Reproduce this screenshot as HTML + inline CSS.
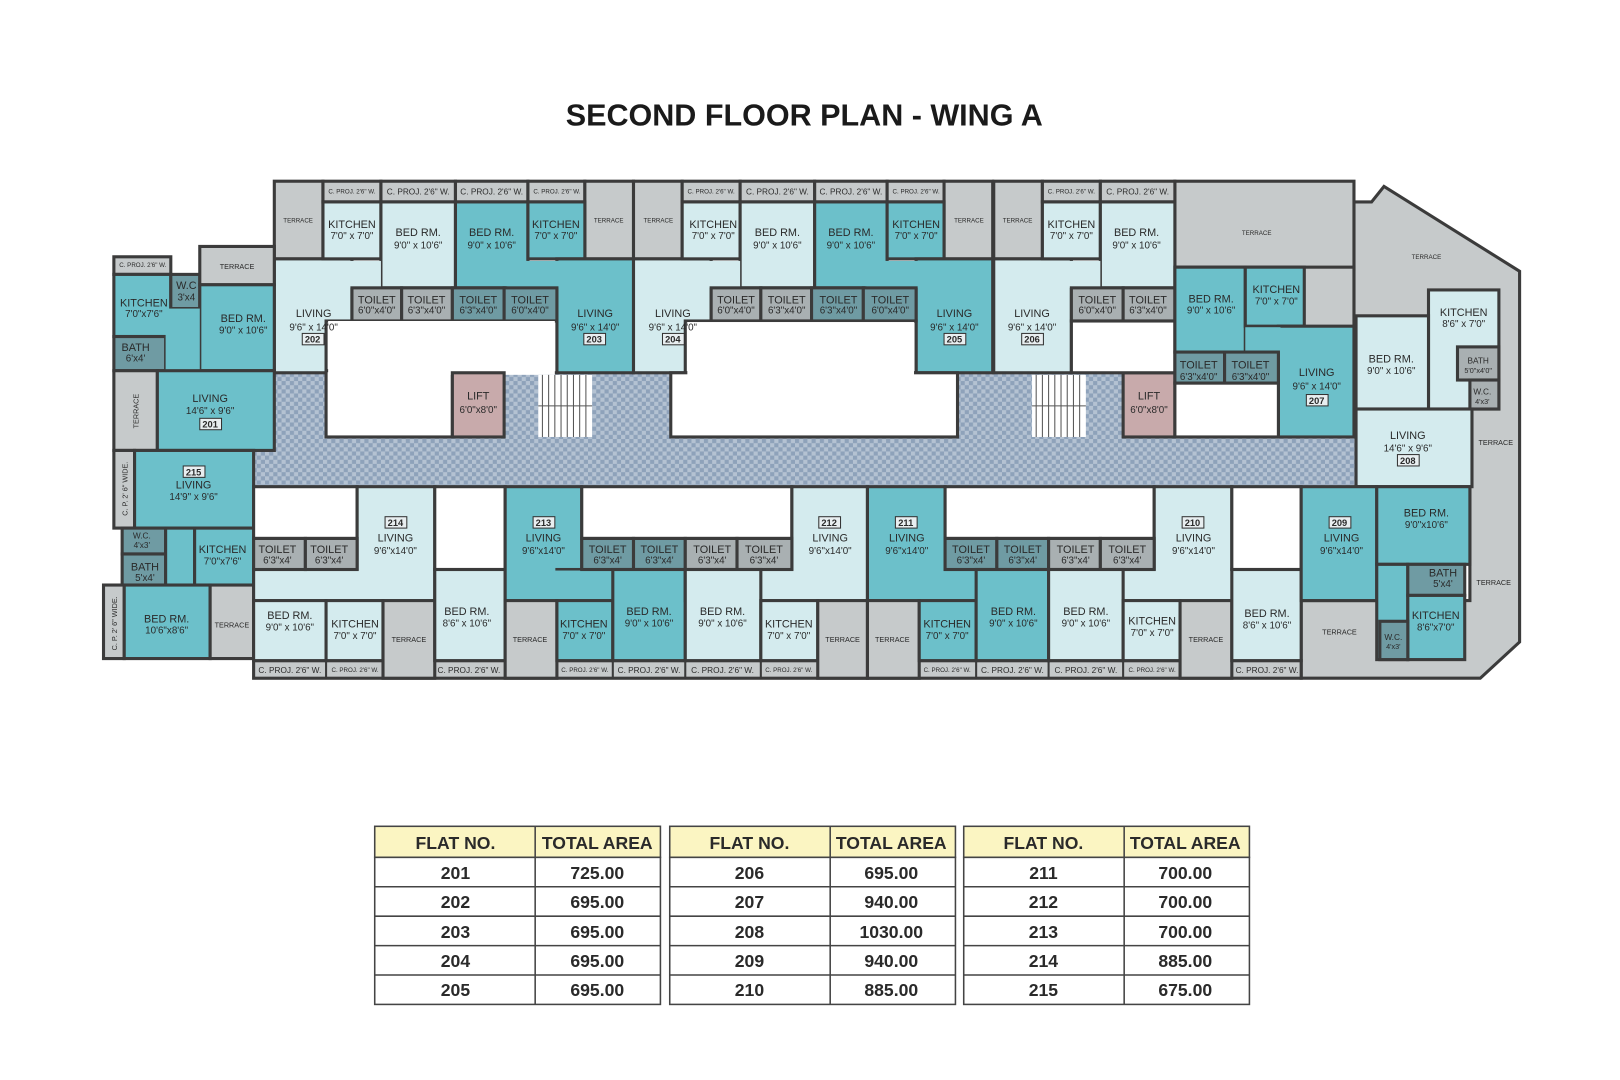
<!DOCTYPE html>
<html><head><meta charset="utf-8"><style>
html,body{margin:0;padding:0;background:#fff;width:1620px;height:1080px;overflow:hidden}
svg{display:block}
.L{fill:#d4ebee;stroke:#3b3b3b;stroke-width:3}
.T{fill:#6cc0ca;stroke:#3b3b3b;stroke-width:3}
.G{fill:#c6cacb;stroke:#3b3b3b;stroke-width:3}
.S{fill:#a9b0b2;stroke:#3b3b3b;stroke-width:3}
.D{fill:#6f9ba3;stroke:#3b3b3b;stroke-width:3}
.W{fill:#fff;stroke:#3b3b3b;stroke-width:3}
.C{fill:url(#chk);stroke:none}
text{font-family:"Liberation Sans",sans-serif;fill:#2a2a2a;text-anchor:middle}
.r{font-size:10.5px}
.d{font-size:9.5px}
.s{font-size:6px}
.p{font-size:8px}
.n{font-size:9px;font-weight:bold}
.nb{fill:#e8eef0;stroke:#333;stroke-width:1}
</style></head><body>
<svg width="1620" height="1080" viewBox="0 0 1565 1043" preserveAspectRatio="none" xmlns="http://www.w3.org/2000/svg">
<defs>
<pattern id="chk" width="8" height="8" patternUnits="userSpaceOnUse">
<rect width="8" height="8" fill="#b4c2d2"/><rect width="4" height="4" fill="#8ea2ba"/><rect x="4" y="4" width="4" height="4" fill="#8ea2ba"/>
</pattern>
</defs>
<text x="777" y="121" style="font-size:29.5px;font-weight:bold;fill:#1a1a1a">SECOND FLOOR PLAN - WING A</text>

<polygon points="1308,195 1325,195 1337,180 1468,262 1468,620 1430,655 1257,655 1257,580 1420,580 1420,470 1308,470" fill="#c6cacb" stroke="#3b3b3b" stroke-width="3"/>
<rect class="G" x="1135" y="175" width="173" height="85"/>
<rect class="G" x="1135" y="258" width="173" height="60"/>
<rect class="C" x="245" y="360" width="1065" height="112"/>
<line x1="245" y1="471" x2="1308" y2="471" stroke="#3b3b3b" stroke-width="3"/>

<g id="pair">
<rect class="G" x="265" y="175" width="47" height="75"/>
<rect class="G" x="312" y="175" width="56" height="20"/><rect class="G" x="368" y="175" width="72" height="20"/><rect class="G" x="440" y="175" width="70" height="20"/><rect class="G" x="510" y="175" width="55" height="20"/>
<rect class="G" x="565" y="175" width="47" height="75"/>
<rect class="L" x="265" y="250" width="75" height="110"/>
<rect class="L" x="312" y="195" width="56" height="55"/>
<rect class="L" x="368" y="195" width="72" height="83"/>
<rect class="T" x="440" y="195" width="70" height="83"/>
<rect class="T" x="510" y="195" width="55" height="55"/>
<rect class="T" x="538" y="250" width="74" height="110"/>
<rect fill="#d4ebee" x="338" y="252" width="30" height="26"/>
<rect fill="#6cc0ca" x="490" y="252" width="50" height="26"/>
<rect class="S" x="340" y="278" width="48" height="32"/><rect class="S" x="388" y="278" width="49" height="32"/>
<rect class="D" x="437" y="278" width="50" height="32"/><rect class="D" x="487" y="278" width="51" height="32"/>
</g>
<use href="#pair" x="347"/>
<rect class="W" x="315" y="310" width="223" height="50"/>
<rect class="W" x="315" y="358" width="122" height="64"/>
<rect fill="#fff" x="317" y="310" width="219" height="52"/>
<rect fill="#c8aaab" stroke="#3b3b3b" stroke-width="3" x="437" y="360" width="50" height="62"/>
<rect class="W" x="662" y="310" width="223" height="50"/>
<rect class="W" x="648" y="360" width="277" height="62"/>
<rect fill="#fff" x="664" y="311" width="219" height="52"/>
<g id="stair"><rect fill="#fff" x="520" y="362" width="52" height="60"/>
<path d="M524 362v60M530 362v60M536 362v60M542 362v60M548 362v60M554 362v60M560 362v60M566 362v60M520 392h52" stroke="#555" stroke-width="1"/></g>
<use href="#stair" x="477"/>
<rect fill="#c8aaab" stroke="#3b3b3b" stroke-width="3" x="1085" y="360" width="50" height="62"/>

<rect class="G" x="960" y="175" width="47" height="75"/>
<rect class="G" x="1007" y="175" width="56" height="20"/><rect class="G" x="1063" y="175" width="72" height="20"/>
<rect class="L" x="960" y="250" width="75" height="110"/>
<rect class="L" x="1007" y="195" width="56" height="55"/>
<rect class="L" x="1063" y="195" width="72" height="83"/>
<rect fill="#d4ebee" x="1033" y="252" width="30" height="26"/>
<rect class="S" x="1035" y="278" width="50" height="32"/><rect class="S" x="1085" y="278" width="50" height="32"/>
<rect class="W" x="1035" y="310" width="100" height="50"/>

<rect class="T" x="1135" y="258" width="68" height="82"/>
<rect class="T" x="1203" y="258" width="57" height="57"/>
<rect class="T" x="1235" y="315" width="73" height="107"/>
<rect fill="#6cc0ca" x="1203" y="316" width="34" height="24"/>
<rect class="D" x="1135" y="340" width="48" height="30"/><rect class="D" x="1183" y="340" width="52" height="30"/>
<rect class="W" x="1135" y="370" width="100" height="52"/>
<rect class="L" x="1380" y="280" width="68" height="115"/>
<rect class="L" x="1310" y="305" width="70" height="90"/>
<rect class="S" x="1408" y="335" width="40" height="32"/>
<rect class="S" x="1420" y="367" width="28" height="28"/>
<rect class="L" x="1310" y="395" width="112" height="75"/>

<rect class="G" x="110" y="248" width="55" height="17"/>
<rect class="T" x="110" y="265" width="55" height="60"/>
<rect class="D" x="165" y="265" width="28" height="33"/>
<rect class="G" x="193" y="238" width="72" height="37"/>
<rect class="T" x="193" y="275" width="72" height="83"/>
<rect class="D" x="110" y="325" width="50" height="33"/>
<rect fill="#6cc0ca" x="160" y="298" width="33" height="60"/>
<rect class="G" x="110" y="358" width="42" height="77"/>
<rect class="T" x="152" y="358" width="113" height="77"/>
<rect class="G" x="110" y="435" width="20" height="75"/>
<rect class="T" x="130" y="435" width="115" height="75"/>
<rect class="D" x="118" y="510" width="42" height="25"/>
<rect class="D" x="118" y="535" width="42" height="30"/>
<rect fill="#6cc0ca" stroke="#3b3b3b" stroke-width="3" x="160" y="510" width="28" height="55"/>
<rect class="T" x="188" y="510" width="57" height="55"/>
<rect class="G" x="100" y="565" width="20" height="71"/>
<rect class="T" x="120" y="565" width="83" height="71"/>
<rect class="G" x="203" y="565" width="42" height="71"/>

<rect class="G" x="245" y="638" width="1012" height="17"/>
<path d="M315 638v17M370 638v17M420 638v17M488 638v17M538 638v17M592 638v17M662 638v17M735 638v17M790 638v17M838 638v17M888 638v17M943 638v17M1013 638v17M1085 638v17M1140 638v17M1190 638v17" stroke="#3b3b3b" stroke-width="2"/>
<rect class="W" x="245" y="470" width="100" height="50"/>
<rect class="L" x="245" y="550" width="175" height="30"/>
<rect class="L" x="345" y="470" width="75" height="110"/>
<rect fill="#d4ebee" x="247" y="551" width="171" height="30"/>
<rect class="S" x="245" y="520" width="50" height="30"/><rect class="S" x="295" y="520" width="50" height="30"/>
<rect class="W" x="420" y="470" width="68" height="80"/>
<rect class="L" x="245" y="580" width="70" height="58"/>
<rect class="L" x="315" y="580" width="55" height="58"/>
<rect class="G" x="370" y="580" width="50" height="75"/>
<rect class="L" x="420" y="550" width="68" height="88"/>
<rect class="T" x="488" y="470" width="74" height="110"/>
<rect class="T" x="538" y="550" width="124" height="30"/>
<rect fill="#6cc0ca" x="490" y="551" width="170" height="30"/>
<rect class="W" x="562" y="470" width="203" height="50"/>
<rect class="D" x="562" y="520" width="50" height="30"/><rect class="D" x="612" y="520" width="50" height="30"/>
<rect class="G" x="488" y="580" width="50" height="75"/>
<rect class="T" x="538" y="580" width="54" height="58"/>
<rect class="T" x="592" y="550" width="70" height="88"/>
<rect class="L" x="662" y="550" width="176" height="30"/>
<rect class="L" x="765" y="470" width="73" height="110"/>
<rect fill="#d4ebee" x="664" y="551" width="172" height="30"/>
<rect class="S" x="662" y="520" width="50" height="30"/><rect class="S" x="712" y="520" width="53" height="30"/>
<rect class="L" x="662" y="550" width="73" height="88"/>
<rect class="L" x="735" y="580" width="55" height="58"/>
<rect class="G" x="790" y="580" width="48" height="75"/>
<rect class="T" x="838" y="470" width="75" height="110"/>
<rect fill="#6cc0ca" x="840" y="551" width="173" height="30"/>
<rect class="W" x="913" y="470" width="202" height="50"/>
<rect class="D" x="913" y="520" width="50" height="30"/><rect class="D" x="963" y="520" width="50" height="30"/>
<rect class="G" x="838" y="580" width="50" height="75"/>
<rect class="T" x="888" y="580" width="55" height="58"/>
<rect class="T" x="943" y="550" width="70" height="88"/>
<rect class="L" x="1115" y="470" width="75" height="110"/>
<rect fill="#d4ebee" x="1015" y="551" width="175" height="30"/>
<rect class="S" x="1013" y="520" width="50" height="30"/><rect class="S" x="1063" y="520" width="52" height="30"/>
<rect class="L" x="1013" y="550" width="72" height="88"/>
<rect class="L" x="1085" y="580" width="55" height="58"/>
<rect class="G" x="1140" y="580" width="50" height="75"/>
<rect class="W" x="1190" y="470" width="67" height="80"/>
<rect class="L" x="1190" y="550" width="67" height="88"/>
<rect class="T" x="1257" y="470" width="73" height="110"/>
<rect class="T" x="1330" y="470" width="90" height="75"/>
<rect fill="#6cc0ca" stroke="#3b3b3b" stroke-width="3" x="1330" y="545" width="30" height="92"/>
<rect class="D" x="1360" y="545" width="55" height="30"/>
<rect class="T" x="1360" y="575" width="55" height="62"/>
<rect class="D" x="1333" y="600" width="27" height="37"/>

<g>
<text class="s" x="340" y="187">C. PROJ. 2'6" W.</text><text class="p" x="404" y="188">C. PROJ. 2'6" W.</text><text class="p" x="475" y="188">C. PROJ. 2'6" W.</text><text class="s" x="538" y="187">C. PROJ. 2'6" W.</text>
<text class="s" x="687" y="187">C. PROJ. 2'6" W.</text><text class="p" x="751" y="188">C. PROJ. 2'6" W.</text><text class="p" x="822" y="188">C. PROJ. 2'6" W.</text><text class="s" x="885" y="187">C. PROJ. 2'6" W.</text>
<text class="s" x="1035" y="187">C. PROJ. 2'6" W.</text><text class="p" x="1099" y="188">C. PROJ. 2'6" W.</text>
<text class="s" x="288" y="215">TERRACE</text><text class="s" x="588" y="215">TERRACE</text><text class="s" x="636" y="215">TERRACE</text><text class="s" x="936" y="215">TERRACE</text><text class="s" x="983" y="215">TERRACE</text>
<text class="r" x="340" y="220">KITCHEN</text><text class="d" x="340" y="231">7'0" x 7'0"</text>
<text class="r" x="404" y="228">BED RM.</text><text class="d" x="404" y="240">9'0" x 10'6"</text>
<text class="r" x="475" y="228">BED RM.</text><text class="d" x="475" y="240">9'0" x 10'6"</text>
<text class="r" x="537" y="220">KITCHEN</text><text class="d" x="537" y="231">7'0" x 7'0"</text>
<text class="r" x="689" y="220">KITCHEN</text><text class="d" x="689" y="231">7'0" x 7'0"</text>
<text class="r" x="751" y="228">BED RM.</text><text class="d" x="751" y="240">9'0" x 10'6"</text>
<text class="r" x="822" y="228">BED RM.</text><text class="d" x="822" y="240">9'0" x 10'6"</text>
<text class="r" x="885" y="220">KITCHEN</text><text class="d" x="885" y="231">7'0" x 7'0"</text>
<text class="r" x="1035" y="220">KITCHEN</text><text class="d" x="1035" y="231">7'0" x 7'0"</text>
<text class="r" x="1098" y="228">BED RM.</text><text class="d" x="1098" y="240">9'0" x 10'6"</text>
<text class="s" x="1214" y="227">TERRACE</text><text class="s" x="1378" y="250">TERRACE</text>
<text class="r" x="364" y="293">TOILET</text><text class="d" x="364" y="303">6'0"x4'0"</text>
<text class="r" x="412" y="293">TOILET</text><text class="d" x="412" y="303">6'3"x4'0"</text>
<text class="r" x="462" y="293">TOILET</text><text class="d" x="462" y="303">6'3"x4'0"</text>
<text class="r" x="512" y="293">TOILET</text><text class="d" x="512" y="303">6'0"x4'0"</text>
<text class="r" x="711" y="293">TOILET</text><text class="d" x="711" y="303">6'0"x4'0"</text>
<text class="r" x="760" y="293">TOILET</text><text class="d" x="760" y="303">6'3"x4'0"</text>
<text class="r" x="810" y="293">TOILET</text><text class="d" x="810" y="303">6'3"x4'0"</text>
<text class="r" x="860" y="293">TOILET</text><text class="d" x="860" y="303">6'0"x4'0"</text>
<text class="r" x="1060" y="293">TOILET</text><text class="d" x="1060" y="303">6'0"x4'0"</text>
<text class="r" x="1109" y="293">TOILET</text><text class="d" x="1109" y="303">6'3"x4'0"</text>
<text class="r" x="303" y="306">LIVING</text><text class="d" x="303" y="319">9'6" x 14'0"</text>
<text class="r" x="575" y="306">LIVING</text><text class="d" x="575" y="319">9'6" x 14'0"</text>
<text class="r" x="650" y="306">LIVING</text><text class="d" x="650" y="319">9'6" x 14'0"</text>
<text class="r" x="922" y="306">LIVING</text><text class="d" x="922" y="319">9'6" x 14'0"</text>
<text class="r" x="997" y="306">LIVING</text><text class="d" x="997" y="319">9'6" x 14'0"</text>
<rect class="nb" x="292" y="322" width="21" height="11"/><text class="n" x="302" y="331">202</text>
<rect class="nb" x="564" y="322" width="21" height="11"/><text class="n" x="574" y="331">203</text>
<rect class="nb" x="640" y="322" width="21" height="11"/><text class="n" x="650" y="331">204</text>
<rect class="nb" x="912" y="322" width="21" height="11"/><text class="n" x="922" y="331">205</text>
<rect class="nb" x="987" y="322" width="21" height="11"/><text class="n" x="997" y="331">206</text>
<text class="r" x="462" y="386">LIFT</text><text class="d" x="462" y="399">6'0"x8'0"</text>
<text class="r" x="1110" y="386">LIFT</text><text class="d" x="1110" y="399">6'0"x8'0"</text>
<text class="r" x="1170" y="292">BED RM.</text><text class="d" x="1170" y="303">9'0" x 10'6"</text>
<text class="r" x="1233" y="283">KITCHEN</text><text class="d" x="1233" y="294">7'0" x 7'0"</text>
<text class="r" x="1158" y="356">TOILET</text><text class="d" x="1158" y="367">6'3"x4'0"</text>
<text class="r" x="1208" y="356">TOILET</text><text class="d" x="1208" y="367">6'3"x4'0"</text>
<text class="r" x="1272" y="363">LIVING</text><text class="d" x="1272" y="376">9'6" x 14'0"</text>
<rect class="nb" x="1262" y="381" width="21" height="11"/><text class="n" x="1272" y="390">207</text>
<text class="r" x="1414" y="305">KITCHEN</text><text class="d" x="1414" y="316">8'6" x 7'0"</text>
<text class="r" x="1344" y="350">BED RM.</text><text class="d" x="1344" y="361">9'0" x 10'6"</text>
<text class="s" x="1428" y="351" style="font-size:8px">BATH</text><text class="s" x="1428" y="360" style="font-size:7px">5'0"x4'0"</text>
<text class="s" x="1432" y="381" style="font-size:8px">W.C.</text><text class="s" x="1432" y="390" style="font-size:7px">4'x3'</text>
<text class="r" x="1360" y="424">LIVING</text><text class="d" x="1360" y="436">14'6" x 9'6"</text>
<rect class="nb" x="1350" y="439" width="21" height="11"/><text class="n" x="1360" y="448">208</text>
<text class="s" x="1445" y="430" style="font-size:7px">TERRACE</text>
<text class="s" x="1443" y="565" style="font-size:7px">TERRACE</text>
<text class="s" x="138" y="258">C. PROJ. 2'6" W.</text>
<text class="s" x="229" y="260" style="font-size:7px">TERRACE</text>
<text class="r" x="139" y="296">KITCHEN</text><text class="d" x="139" y="306">7'0"x7'6"</text>
<text class="r" x="180" y="279">W.C</text><text class="d" x="180" y="290">3'x4</text>
<text class="r" x="235" y="311">BED RM.</text><text class="d" x="235" y="322">9'0" x 10'6"</text>
<text class="r" x="131" y="339">BATH</text><text class="d" x="131" y="349">6'x4'</text>
<text class="s" x="0" y="0" transform="translate(134,397) rotate(-90)" style="font-size:7px">TERRACE</text>
<text class="r" x="203" y="388">LIVING</text><text class="d" x="203" y="400">14'6" x 9'6"</text>
<rect class="nb" x="193" y="404" width="21" height="11"/><text class="n" x="203" y="413">201</text>
<text class="s" x="0" y="0" transform="translate(123,472) rotate(-90)" style="font-size:7px">C. P. 2' 6" WIDE.</text>
<rect class="nb" x="177" y="450" width="21" height="11"/><text class="n" x="187" y="459">215</text>
<text class="r" x="187" y="472">LIVING</text><text class="d" x="187" y="483">14'9" x 9'6"</text>
<text class="s" x="137" y="520" style="font-size:8px">W.C.</text><text class="s" x="137" y="529" style="font-size:8px">4'x3'</text>
<text class="r" x="140" y="551">BATH</text><text class="d" x="140" y="561">5'x4'</text>
<text class="r" x="215" y="534">KITCHEN</text><text class="d" x="215" y="545">7'0"x7'6"</text>
<text class="s" x="0" y="0" transform="translate(113,602) rotate(-90)" style="font-size:7px">C. P. 2' 6" WIDE.</text>
<text class="r" x="161" y="601">BED RM.</text><text class="d" x="161" y="612">10'6"x8'6"</text>
<text class="s" x="224" y="606" style="font-size:7px">TERRACE</text>
<text class="r" x="268" y="534">TOILET</text><text class="d" x="268" y="544">6'3"x4'</text>
<text class="r" x="318" y="534">TOILET</text><text class="d" x="318" y="544">6'3"x4'</text>
<rect class="nb" x="372" y="499" width="21" height="11"/><text class="n" x="382" y="508">214</text>
<text class="r" x="382" y="523">LIVING</text><text class="d" x="382" y="535">9'6"x14'0"</text>
<text class="r" x="280" y="598">BED RM.</text><text class="d" x="280" y="609">9'0" x 10'6"</text>
<text class="r" x="343" y="606">KITCHEN</text><text class="d" x="343" y="617">7'0" x 7'0"</text>
<text class="s" x="395" y="620" style="font-size:7px">TERRACE</text>
<text class="r" x="451" y="594">BED RM.</text><text class="d" x="451" y="605">8'6" x 10'6"</text>
<rect class="nb" x="515" y="499" width="21" height="11"/><text class="n" x="525" y="508">213</text>
<text class="r" x="525" y="523">LIVING</text><text class="d" x="525" y="535">9'6"x14'0"</text>
<text class="r" x="587" y="534">TOILET</text><text class="d" x="587" y="544">6'3"x4'</text>
<text class="r" x="637" y="534">TOILET</text><text class="d" x="637" y="544">6'3"x4'</text>
<text class="r" x="688" y="534">TOILET</text><text class="d" x="688" y="544">6'3"x4'</text>
<text class="r" x="738" y="534">TOILET</text><text class="d" x="738" y="544">6'3"x4'</text>
<text class="s" x="512" y="620" style="font-size:7px">TERRACE</text>
<text class="r" x="564" y="606">KITCHEN</text><text class="d" x="564" y="617">7'0" x 7'0"</text>
<text class="r" x="627" y="594">BED RM.</text><text class="d" x="627" y="605">9'0" x 10'6"</text>
<text class="r" x="698" y="594">BED RM.</text><text class="d" x="698" y="605">9'0" x 10'6"</text>
<text class="r" x="762" y="606">KITCHEN</text><text class="d" x="762" y="617">7'0" x 7'0"</text>
<text class="s" x="814" y="620" style="font-size:7px">TERRACE</text>
<rect class="nb" x="791" y="499" width="21" height="11"/><text class="n" x="801" y="508">212</text>
<text class="r" x="802" y="523">LIVING</text><text class="d" x="802" y="535">9'6"x14'0"</text>
<rect class="nb" x="865" y="499" width="21" height="11"/><text class="n" x="875" y="508">211</text>
<text class="r" x="876" y="523">LIVING</text><text class="d" x="876" y="535">9'6"x14'0"</text>
<text class="s" x="862" y="620" style="font-size:7px">TERRACE</text>
<text class="r" x="915" y="606">KITCHEN</text><text class="d" x="915" y="617">7'0" x 7'0"</text>
<text class="r" x="979" y="594">BED RM.</text><text class="d" x="979" y="605">9'0" x 10'6"</text>
<text class="r" x="938" y="534">TOILET</text><text class="d" x="938" y="544">6'3"x4'</text>
<text class="r" x="988" y="534">TOILET</text><text class="d" x="988" y="544">6'3"x4'</text>
<text class="r" x="1039" y="534">TOILET</text><text class="d" x="1039" y="544">6'3"x4'</text>
<text class="r" x="1089" y="534">TOILET</text><text class="d" x="1089" y="544">6'3"x4'</text>
<text class="r" x="1049" y="594">BED RM.</text><text class="d" x="1049" y="605">9'0" x 10'6"</text>
<text class="r" x="1113" y="603">KITCHEN</text><text class="d" x="1113" y="614">7'0" x 7'0"</text>
<text class="s" x="1165" y="620" style="font-size:7px">TERRACE</text>
<rect class="nb" x="1142" y="499" width="21" height="11"/><text class="n" x="1152" y="508">210</text>
<text class="r" x="1153" y="523">LIVING</text><text class="d" x="1153" y="535">9'6"x14'0"</text>
<text class="r" x="1224" y="596">BED RM.</text><text class="d" x="1224" y="607">8'6" x 10'6"</text>
<rect class="nb" x="1284" y="499" width="21" height="11"/><text class="n" x="1294" y="508">209</text>
<text class="r" x="1296" y="523">LIVING</text><text class="d" x="1296" y="535">9'6"x14'0"</text>
<text class="r" x="1378" y="499">BED RM.</text><text class="d" x="1378" y="510">9'0"x10'6"</text>
<text class="r" x="1394" y="557">BATH</text><text class="d" x="1394" y="567">5'x4'</text>
<text class="r" x="1387" y="598">KITCHEN</text><text class="d" x="1387" y="609">8'6"x7'0"</text>
<text class="s" x="1346" y="618" style="font-size:8px">W.C.</text><text class="s" x="1346" y="627" style="font-size:7px">4'x3'</text>
<text class="s" x="1294" y="613" style="font-size:7px">TERRACE</text>
<text class="p" x="280" y="650">C. PROJ. 2'6" W.</text><text class="s" x="343" y="649">C. PROJ. 2'6" W.</text><text class="p" x="453" y="650">C. PROJ. 2'6" W.</text>
<text class="s" x="565" y="649">C. PROJ. 2'6" W.</text><text class="p" x="627" y="650">C. PROJ. 2'6" W.</text><text class="p" x="698" y="650">C. PROJ. 2'6" W.</text><text class="s" x="762" y="649">C. PROJ. 2'6" W.</text>
<text class="s" x="915" y="649">C. PROJ. 2'6" W.</text><text class="p" x="978" y="650">C. PROJ. 2'6" W.</text><text class="p" x="1049" y="650">C. PROJ. 2'6" W.</text><text class="s" x="1113" y="649">C. PROJ. 2'6" W.</text><text class="p" x="1224" y="650">C. PROJ. 2'6" W.</text>
</g>

<g id="tbl">
<rect x="362" y="798" width="276" height="30" fill="#fbf5c2" stroke="#444" stroke-width="1.5"/>
<rect x="362" y="828" width="276" height="142" fill="#fff" stroke="#444" stroke-width="1.5"/>
<path d="M517 798v172M362 856.4h276M362 884.8h276M362 913.2h276M362 941.6h276" stroke="#444" stroke-width="1.5"/>
</g>
<use href="#tbl" x="285"/><use href="#tbl" x="569"/>
<g style="font-size:17px;font-weight:bold">
<text x="440" y="820">FLAT NO.</text><text x="577" y="820">TOTAL AREA</text>
<text x="724" y="820">FLAT NO.</text><text x="861" y="820">TOTAL AREA</text>
<text x="1008" y="820">FLAT NO.</text><text x="1145" y="820">TOTAL AREA</text>
<text x="440" y="849">201</text><text x="577" y="849">725.00</text><text x="724" y="849">206</text><text x="861" y="849">695.00</text><text x="1008" y="849">211</text><text x="1145" y="849">700.00</text>
<text x="440" y="877">202</text><text x="577" y="877">695.00</text><text x="724" y="877">207</text><text x="861" y="877">940.00</text><text x="1008" y="877">212</text><text x="1145" y="877">700.00</text>
<text x="440" y="906">203</text><text x="577" y="906">695.00</text><text x="724" y="906">208</text><text x="861" y="906">1030.00</text><text x="1008" y="906">213</text><text x="1145" y="906">700.00</text>
<text x="440" y="934">204</text><text x="577" y="934">695.00</text><text x="724" y="934">209</text><text x="861" y="934">940.00</text><text x="1008" y="934">214</text><text x="1145" y="934">885.00</text>
<text x="440" y="962">205</text><text x="577" y="962">695.00</text><text x="724" y="962">210</text><text x="861" y="962">885.00</text><text x="1008" y="962">215</text><text x="1145" y="962">675.00</text>
</g>
</svg>
</body></html>
